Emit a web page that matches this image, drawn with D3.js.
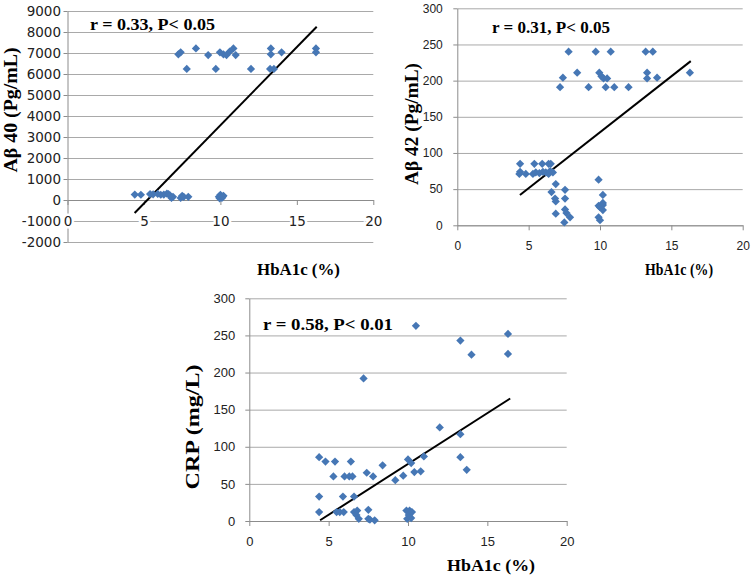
<!DOCTYPE html>
<html><head><meta charset="utf-8">
<script src="https://cdn.jsdelivr.net/npm/d3@7"></script>
<style>body{margin:0;background:#fff}svg{display:block}</style>
</head><body>
<svg id="c" width="754" height="579"></svg>
<script>
// ---------- DATA ----------
const xTicks = [0, 5, 10, 15, 20];
const ab40Ticks = [-2000, -1000, 0, 1000, 2000, 3000, 4000, 5000, 6000, 7000, 8000, 9000];
const ab42Ticks = [0, 50, 100, 150, 200, 250, 300];
const crpTicks = [0, 50, 100, 150, 200, 250, 300];

const ab40X = [7.25,7.4,8.4,9.2,9.97,10.2,10.4,10.6,10.85,11.0,13.3,13.3,14.0,16.25,16.25,7.8,9.7,12.0,13.25,13.5,
  4.4,4.8,5.4,5.6,5.9,6.1,6.3,6.5,6.6,6.7,6.9,6.8,7.4,7.5,7.6,7.9,9.9,10.0,10.1,10.2,9.95,10.15];
const ab40Y = [6940,7030,7220,6900,7030,6940,6900,7060,7220,6900,7220,6940,7030,7220,7030,6240,6240,6240,6240,6240,
  260,250,280,270,290,250,260,300,280,220,150,100,100,200,150,150,150,250,100,200,80,160];

const ab42X = [7.8,9.7,10.75,13.2,13.7, 8.4,9.95,10.1,10.25,10.5,7.4,13.3,13.3,14.0,16.3, 7.2,9.2,10.4,11.0,12.0,
  4.4,5.4,5.95,6.4,6.55, 4.35,4.4,4.8,5.3,5.5,5.75,6.0,6.2,6.4,6.5,6.7,
  6.9,6.6,6.85,6.9,7.55,7.55,6.9,7.55,7.65,7.9,7.5, 9.9,10.2,9.9,10.2,10.2,10.0,10.2,9.9,10.0];
const ab42Y = [240,240,240,240,240, 211,211,206,203,203,204,211,203,204,211, 191,191,191,191,191,
  85,85,85,85,85, 71,74,71,71,73,72,74,73,71,75,73,
  57,46,37,33,49,37,16,22,17,11,4, 63,42,27,28,21,25,31,11,7];

const crpX = [4.4,4.8,5.4,6.4,5.3,6.0,6.3,6.5,7.4,7.8,8.4,9.2,9.7,10.0,10.2,10.4,10.8,11.0,12.0,4.4,5.9,6.6,
  4.4,5.5,5.7,5.95,6.6,6.8,6.9,6.75,7.5,7.5,7.6,7.9,9.9,10.1,9.95,10.2,10.05,10.25,7.2,10.5,13.3,14.0,16.3,16.3,13.3,13.3,13.7];
const crpY = [86,80,80,80,60,60,60,60,65,60,75,55,61,83,78,66,67,87,126,33,33,33,
  12,12,12,12,12,14,3,8,15,3,2,1,14,14,3,4,8,12,192,263,243,224,252,225,117,86,69];

const ab40LineX = [4.39, 16.3], ab40LineY = [-620, 8250];
const ab42LineX = [4.39, 16.36], ab42LineY = [42, 227];
const crpLineX = [4.46, 16.44], crpLineY = [1, 165];

const ab40Note = "r = 0.33, P< 0.05";
const ab42Note = "r = 0.31, P< 0.05";
const crpNote = "r = 0.58, P< 0.01";
const xTitle = "HbA1c (%)";
const ab40Title = "Aβ 40 (Pg/mL)";
const ab42Title = "Aβ 42 (Pg/mL)";
const crpTitle = "CRP (mg/L)";

// ---------- DRAW ----------
const svg = d3.select("#c");
svg.append("rect").attr("width", 754).attr("height", 579).attr("fill", "#fff");
const BLUE = "#4677b5";
const serif = "'Liberation Serif','Times New Roman',serif";
const plain = d => String(d);

function panel(o) {
  const x = d3.scaleLinear().domain([0, 20]).range([o.x0, o.x1]);
  const y = d3.scaleLinear().domain([o.yTicks[0], o.yTicks[o.yTicks.length - 1]]).range([o.yb, o.yt]);
  const g = svg.append("g");

  // gridlines
  const grid = g.append("g").attr("transform", `translate(${o.x0},0)`)
    .call(d3.axisLeft(y).tickValues(o.yTicks).tickSize(-(o.x1 - o.x0)).tickFormat(""));
  grid.select(".domain").remove();
  grid.selectAll("line").attr("stroke", "#a9a9a9").attr("stroke-width", 1);

  // y axis
  const ya = g.append("g").attr("transform", `translate(${o.x0},0)`)
    .call(d3.axisLeft(y).tickValues(o.yTicks).tickFormat(plain).tickSize(4).tickSizeOuter(0).tickPadding(o.yPad));
  ya.select(".domain").attr("stroke", "#8c8c8c");
  ya.selectAll("line").attr("stroke", "#8c8c8c");
  ya.selectAll("text").attr("font-family", o.tickFont).attr("font-size", o.tickSize).attr("fill", "#222");

  // x axis
  const xa = g.append("g").attr("transform", `translate(0,${y(o.xAt)})`)
    .call(d3.axisBottom(x).tickValues(xTicks).tickFormat(plain).tickSize(5).tickSizeOuter(0).tickPadding(o.xPad));
  xa.select(".domain").attr("stroke", "#8c8c8c");
  xa.selectAll("line").attr("stroke", "#8c8c8c");
  xa.selectAll("text").attr("font-family", o.tickFont).attr("font-size", o.tickSize).attr("fill", "#222");
  if (o.halo) xa.selectAll("text").attr("stroke", "#fff").attr("stroke-width", 5).style("paint-order", "stroke");

  // regression line
  g.append("line")
    .attr("x1", x(o.lx[0])).attr("y1", y(o.ly[0]))
    .attr("x2", x(o.lx[1])).attr("y2", y(o.ly[1]))
    .attr("stroke", "#000").attr("stroke-width", 2);

  // points
  const sym = d3.symbol().type(d3.symbolSquare).size(34);
  g.append("g").selectAll("path").data(o.px.map((v, i) => [v, o.py[i]])).join("path")
    .attr("d", sym)
    .attr("transform", d => `translate(${x(d[0])},${y(d[1])}) rotate(45)`)
    .attr("fill", BLUE);

  // annotation
  g.append("text").text(o.note).attr("x", o.nx).attr("y", o.ny)
    .attr("font-family", serif).attr("font-weight", "bold").attr("font-size", o.nfs)
    .attr("textLength", o.nlen).attr("lengthAdjust", "spacingAndGlyphs").attr("fill", "#000");

  // x title
  g.append("text").text(xTitle).attr("x", o.xtx).attr("y", o.xty).attr("text-anchor", "middle")
    .attr("font-family", serif).attr("font-weight", "bold").attr("font-size", o.xtfs)
    .attr("textLength", o.xtlen).attr("lengthAdjust", "spacingAndGlyphs").attr("fill", "#000");

  // y title
  g.append("text").text(o.ytitle).attr("transform", `translate(${o.ytx},${o.yty}) rotate(-90)`)
    .attr("text-anchor", "middle")
    .attr("font-family", serif).attr("font-weight", "bold").attr("font-size", o.ytfs)
    .attr("textLength", o.ytlen).attr("lengthAdjust", "spacingAndGlyphs").attr("fill", "#000");
}

panel({
  x0: 67.5, x1: 373.3, yb: 242, yt: 11, yTicks: ab40Ticks, xAt: 0,
  tickFont: "'DejaVu Sans',sans-serif", tickSize: 13.5, yPad: 2.5, xPad: 11.5, halo: true,
  px: ab40X, py: ab40Y, lx: ab40LineX, ly: ab40LineY,
  note: ab40Note, nx: 90, ny: 29.5, nfs: 17, nlen: 125,
  xtx: 298.5, xty: 275, xtfs: 17, xtlen: 83,
  ytitle: ab40Title, ytx: 17, yty: 110, ytfs: 18, ytlen: 125
});

panel({
  x0: 457.3, x1: 742.7, yb: 225.3, yt: 8.3, yTicks: ab42Ticks, xAt: 0,
  tickFont: "'Liberation Sans',Arial,sans-serif", tickSize: 12, yPad: 10.5, xPad: 11.5, halo: false,
  px: ab42X, py: ab42Y, lx: ab42LineX, ly: ab42LineY,
  note: ab42Note, nx: 492, ny: 33, nfs: 16, nlen: 118,
  xtx: 679, xty: 275, xtfs: 16, xtlen: 68,
  ytitle: ab42Title, ytx: 418, yty: 124, ytfs: 18, ytlen: 122
});

panel({
  x0: 249.3, x1: 566.7, yb: 521, yt: 298.3, yTicks: crpTicks, xAt: 0,
  tickFont: "'Liberation Sans',Arial,sans-serif", tickSize: 13, yPad: 10, xPad: 10.5, halo: false,
  px: crpX, py: crpY, lx: crpLineX, ly: crpLineY,
  note: crpNote, nx: 263, ny: 330, nfs: 17, nlen: 130,
  xtx: 491, xty: 571, xtfs: 17, xtlen: 88,
  ytitle: crpTitle, ytx: 199, yty: 427, ytfs: 18, ytlen: 125
});
</script>
</body></html>
